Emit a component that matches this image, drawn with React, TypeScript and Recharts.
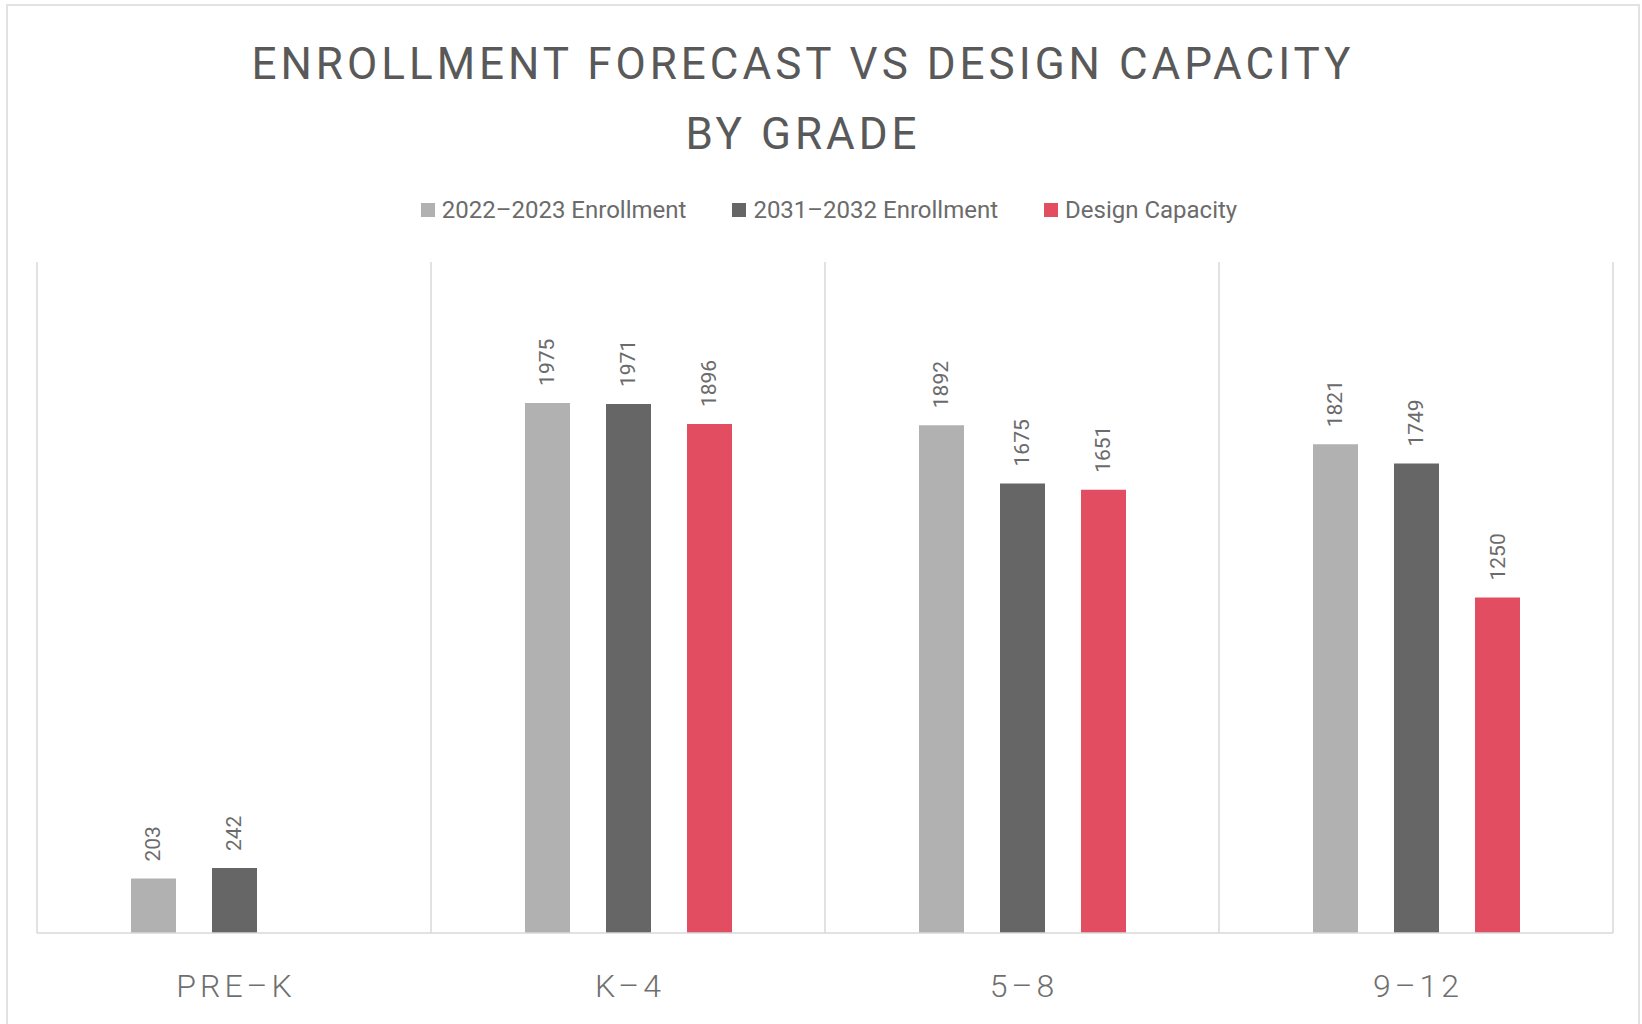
import React from 'react';
import { BarChart, Bar, XAxis, YAxis, CartesianGrid, LabelList } from 'recharts';

const categories = ['PRE-K', 'K-4', '5-8', '9-12'];
const enrollment2022 = [203, 1975, 1892, 1821];
const enrollment2031 = [242, 1971, 1675, 1749];
const designCapacity: (number | null)[] = [null, 1896, 1651, 1250];

const seriesNames = ['2022\u20132023 Enrollment', '2031\u20132032 Enrollment', 'Design Capacity'];
const seriesColors = ['#B1B1B1', '#666666', '#E34D61'];
const yMax = 2500;

const data = categories.map((c, i) => ({
  grade: c,
  e2022: enrollment2022[i],
  e2031: enrollment2031[i],
  cap: designCapacity[i],
}));

const FONT = 'Roboto, "Noto Sans", sans-serif';

const ValueLabel = (props: any) => {
  const { x, y, width, value } = props;
  if (value === null || value === undefined) return null;
  const cx = Number(x) + Number(width) / 2;
  const ty = Number(y) - 17;
  return (
    <text
      x={cx}
      y={ty}
      transform={`rotate(-90 ${cx} ${ty})`}
      textAnchor="start"
      dominantBaseline="central"
      fontSize={21}
      fontFamily={FONT}
      fill="#6b6b6b"
    >
      {value}
    </text>
  );
};

const CategoryTick = (props: any) => {
  const { x, y, payload } = props;
  return (
    <text
      x={x + 2}
      y={y + 64}
      textAnchor="middle"
      fontSize={32}
      fontFamily={FONT}
      fontWeight={300}
      letterSpacing={4}
      fill="#6f6f6f"
    >
      {String(payload.value).replace('-', '\u2013')}
    </text>
  );
};

export default function App() {
  return (
    <div
      style={{
        position: 'absolute',
        left: 0,
        top: 0,
        width: 1642,
        height: 1024,
        background: '#ffffff',
        overflow: 'hidden',
        fontFamily: FONT,
      }}
    >
      <div
        style={{
          position: 'absolute',
          left: 6,
          top: 4,
          width: 1634,
          height: 1030,
          border: '2px solid #e2e2e2',
          boxSizing: 'border-box',
        }}
      />
      <div
        style={{
          position: 'absolute',
          left: 0,
          top: 29,
          width: 1606,
          textAlign: 'center',
          fontSize: 44,
          lineHeight: '70px',
          letterSpacing: 4,
          fontWeight: 400,
          color: '#595959',
        }}
      >
        <div>ENROLLMENT FORECAST VS DESIGN CAPACITY</div>
        <div>BY GRADE</div>
      </div>
      <div
        style={{
          position: 'absolute',
          left: 0,
          top: 194,
          width: 1658,
          height: 32,
          display: 'flex',
          justifyContent: 'center',
          alignItems: 'center',
          fontSize: 24,
          color: '#6b6b6b',
        }}
      >
        {seriesNames.map((n, i) => (
          <div
            key={n}
            style={{ display: 'flex', alignItems: 'center', marginRight: i < seriesNames.length - 1 ? 46 : 0 }}
          >
            <span style={{ display: 'inline-block', width: 14, height: 14, background: seriesColors[i], marginRight: 7 }} />
            <span>{n}</span>
          </div>
        ))}
      </div>
      <div style={{ position: 'absolute', left: 0, top: 0 }}>
        <BarChart
          width={1642}
          height={1024}
          data={data}
          margin={{ top: 262, right: 29, left: 37, bottom: 21 }}
          barCategoryGap={94}
          barGap={36}
        >
          <CartesianGrid
            horizontal={false}
            vertical={true}
            stroke="#d9d9d9"
            strokeWidth={1.5}
            verticalCoordinatesGenerator={({ offset }: any) =>
              [0, 1, 2, 3, 4].map((i) => offset.left + (i * offset.width) / categories.length)
            }
          />
          <XAxis
            dataKey="grade"
            height={70}
            axisLine={{ stroke: '#d9d9d9', strokeWidth: 1.5 }}
            tickLine={false}
            tickSize={0}
            tickMargin={0}
            tick={<CategoryTick />}
            interval={0}
          />
          <YAxis hide domain={[0, yMax]} />
          <Bar dataKey="e2022" name={seriesNames[0]} fill={seriesColors[0]} isAnimationActive={false}>
            <LabelList dataKey="e2022" content={<ValueLabel />} />
          </Bar>
          <Bar dataKey="e2031" name={seriesNames[1]} fill={seriesColors[1]} isAnimationActive={false}>
            <LabelList dataKey="e2031" content={<ValueLabel />} />
          </Bar>
          <Bar dataKey="cap" name={seriesNames[2]} fill={seriesColors[2]} isAnimationActive={false}>
            <LabelList dataKey="cap" content={<ValueLabel />} />
          </Bar>
        </BarChart>
      </div>
    </div>
  );
}
